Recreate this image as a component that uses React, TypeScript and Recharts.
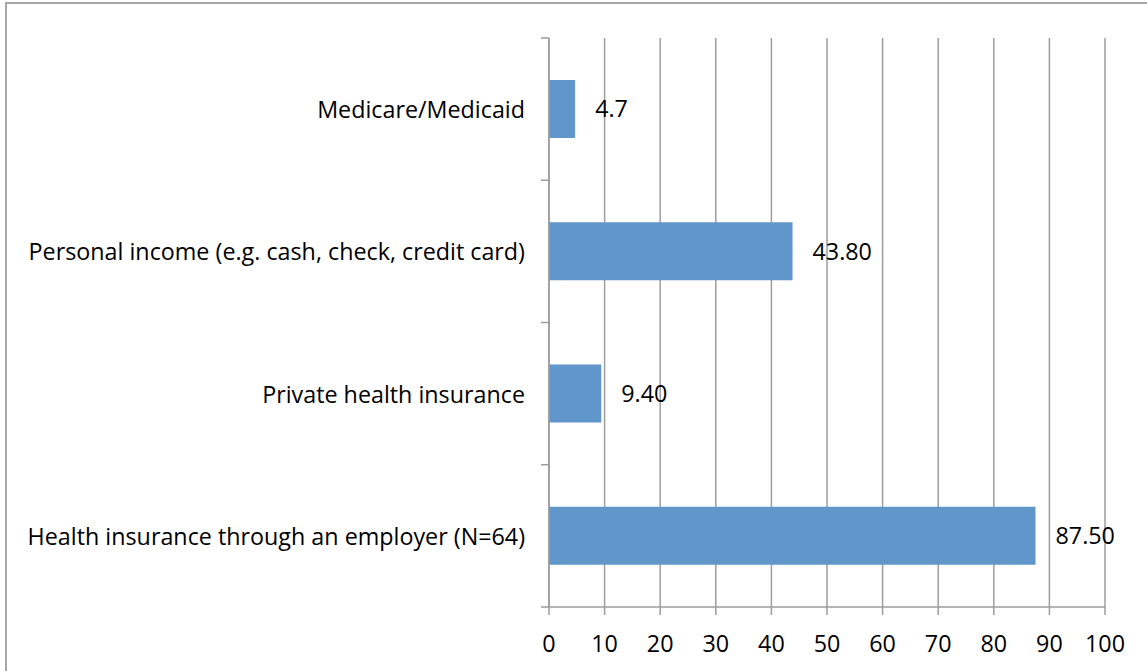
import { BarChart, Bar, XAxis, YAxis, CartesianGrid, LabelList } from 'recharts'

const categories = [
  'Medicare/Medicaid',
  'Personal income (e.g. cash, check, credit card)',
  'Private health insurance',
  'Health insurance through an employer (N=64)',
]
const percents = [4.7, 43.8, 9.4, 87.5]
const valueLabels = ['4.7', '43.80', '9.40', '87.50']
const xTicks = [0, 10, 20, 30, 40, 50, 60, 70, 80, 90, 100]

const W = 1147
const H = 671
const M = { top: 38, right: 42, bottom: 0, left: 0 }
const X_AXIS_H = 64
const BAND = (H - M.top - M.bottom - X_AXIS_H) / categories.length
const GRAY = '#9d9d9d'
const FONT = '"Open Sans", sans-serif'
const FS = 23.3

function CatTick(props: any) {
  const { x, y, payload, index } = props
  return (
    <g>
      <text x={x} y={y} textAnchor="end" dominantBaseline="central" fontSize={FS} fontFamily={FONT} fill="#000">
        {payload.value}
      </text>
      <line x1={x + 16} x2={x + 24} y1={y - BAND / 2} y2={y - BAND / 2} stroke={GRAY} strokeWidth={1.5} />
      {index === categories.length - 1 && (
        <line x1={x + 16} x2={x + 24} y1={y + BAND / 2} y2={y + BAND / 2} stroke={GRAY} strokeWidth={1.5} />
      )}
    </g>
  )
}

export default function App() {
  const data = categories.map((c, i) => ({ name: c, value: percents[i], label: valueLabels[i] }))

  return (
    <div style={{ position: 'absolute', left: 0, top: 0, width: W, height: H, overflow: 'hidden', background: '#fff' }}>
      <div
        style={{
          position: 'absolute',
          left: 5,
          top: 2,
          width: W + 50,
          height: H + 50,
          border: '2px solid #a6a6a6',
        }}
      />
      <div style={{ position: 'absolute', left: 0, top: 0 }}>
        <BarChart width={W} height={H} data={data} layout="vertical" margin={M}>
          <CartesianGrid horizontal={false} vertical={true} stroke={GRAY} strokeWidth={1.5} />
          <XAxis
            type="number"
            domain={[0, 100]}
            ticks={xTicks}
            interval={0}
            height={X_AXIS_H}
            stroke={GRAY}
            strokeWidth={1.5}
            tickSize={8}
            tickMargin={20}
            tick={{ fontSize: FS, fill: '#000', fontFamily: FONT }}
          />
          <YAxis
            type="category"
            dataKey="name"
            width={549}
            stroke={GRAY}
            strokeWidth={1.5}
            tickLine={false}
            tickSize={8}
            tickMargin={16}
            interval={0}
            tick={<CatTick />}
          />
          <Bar dataKey="value" fill="#6096c9" barSize={58} isAnimationActive={false}>
            <LabelList dataKey="label" position="right" offset={20} fill="#000" fontSize={FS} fontFamily={FONT} />
          </Bar>
        </BarChart>
      </div>
    </div>
  )
}
